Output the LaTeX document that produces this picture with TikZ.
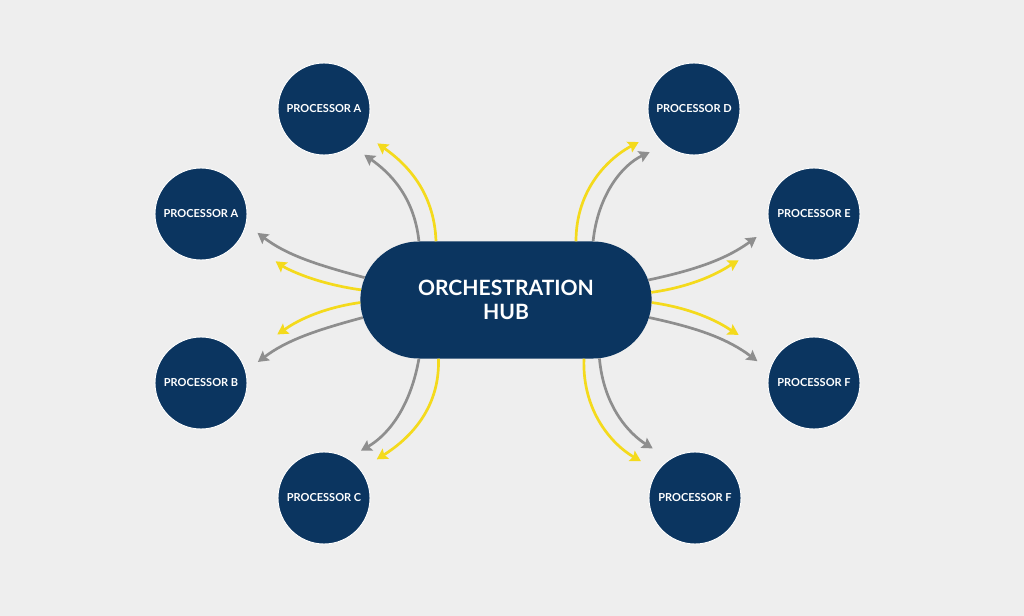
\documentclass[tikz,border=0pt]{standalone}
\usepackage{fontspec}
\setmainfont{Lato}
\usetikzlibrary{arrows.meta,shapes.misc}
\definecolor{bgcol}{HTML}{EEEEEE}
\definecolor{navy}{HTML}{0B3560}
\definecolor{hubyel}{HTML}{F4DA1C}
\definecolor{hubgray}{HTML}{8E8E8E}

\begin{document}
\begin{tikzpicture}[x=0.03cm,y=0.03cm,
  proc/.style={circle,fill=navy,draw=white,line width=0.8pt,minimum size=2.76cm,inner sep=0pt,
    text=white,font=\bfseries\fontsize{9.4}{11}\selectfont},
  hub/.style={rounded rectangle,fill=navy,minimum width=8.97cm,minimum height=3.51cm,
    text=white,align=center,font=\bfseries\fontsize{18}{20.5}\selectfont},
  garr/.style={draw=hubgray,line width=2.3pt,-{Stealth[length=9pt,width=10pt,inset=1.5pt]}},
  yarr/.style={draw=hubyel,line width=2.3pt,-{Stealth[length=9pt,width=10pt,inset=1.5pt]}}]
  \fill[bgcol] (0,0) rectangle (1024,-616);
  \useasboundingbox (0,0) rectangle (1024,-616);
  \node[hub] (hub) at (506,-300) {ORCHESTRATION\\HUB};
  \node[proc] (pa1) at (324,-109) {PROCESSOR A};
  \node[proc] (pa2) at (201,-214) {PROCESSOR A};
  \node[proc] (pb)  at (201,-383) {PROCESSOR B};
  \node[proc] (pc)  at (324,-498) {PROCESSOR C};
  \node[proc] (pd)  at (694,-109) {PROCESSOR D};
  \node[proc] (pe)  at (814,-214) {PROCESSOR E};
  \node[proc] (pf1) at (814,-383) {PROCESSOR F};
  \node[proc] (pf2) at (695,-498) {PROCESSOR F};
  % gray arrows
  \foreach \t/\e/\a/\o/\i/\s in {pa1/-53.7/146/96/-35/0.45, pa2/-13.6/171.2/165/-37/0.42,
      pb/15.2/187.6/195/37/0.45, pc/59.7/214.9/260/30/0.45, pd/231.5/34/84/205/0.5,
      pe/197/8.9/12/216/0.48, pf1/164/-7.7/-12/143/0.45, pf2/123.9/-32.6/275/148/0.6}
    \draw[garr,shorten >=\s cm] (hub.\a) to[out=\o,in=\i] (\t.\e);
  % yellow arrows
  \foreach \t/\e/\a/\o/\i/\s in {pa1/-32.7/140/92/-35/0.51, pa2/-30.6/176.9/172/-35/1.26,
      pb/32.8/181.9/188/33/1.32, pc/38.1/221/272/32/0.57, pd/212.2/40.2/90/208/0.54,
      pe/213/3.8/8/210/1.26, pf1/146.5/-1.9/-8/149/1.29, pf2/144.4/-37.9/268/150/0.57}
    \draw[yarr,shorten >=\s cm] (hub.\a) to[out=\o,in=\i] (\t.\e);
\end{tikzpicture}
\end{document}
